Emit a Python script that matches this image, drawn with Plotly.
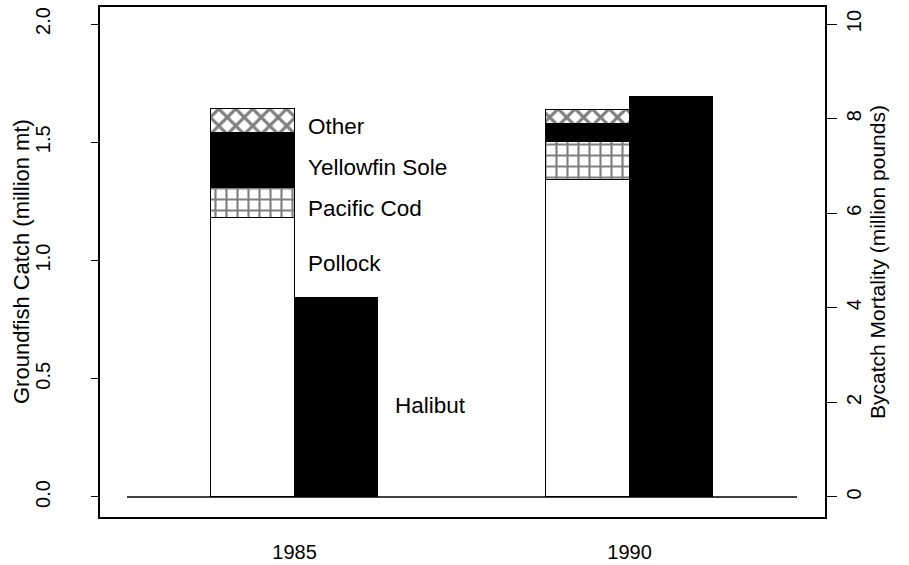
import plotly.graph_objects as go

years = ["1985", "1990"]
pollock = [1.18, 1.34]
pacific_cod = [0.125, 0.162]
yellowfin_sole = [0.235, 0.075]
other = [0.10, 0.059]
halibut = [4.2, 8.45]  # million pounds

FONT = "Liberation Sans, Arial, Helvetica, sans-serif"

# slot layout: each year uses a group of 4 slots: [empty, groundfish, halibut, empty]
gf_x = [1.5 + 4 * i for i in range(len(years))]
hal_x = [2.5 + 4 * i for i in range(len(years))]
tick_x = [2 + 4 * i for i in range(len(years))]

L, R, T, B = 100, 84, 7, 48
W, H = 909, 565
PW = W - L - R

fig = go.Figure()

fig.add_trace(go.Scatter(x=[0, 4 * len(years)], y=[0, 0], mode="lines",
                         line=dict(color="black", width=1.5), showlegend=False,
                         hoverinfo="skip"))

line = dict(color="black", width=1)
fig.add_trace(go.Bar(x=gf_x, y=pollock, width=1, name="Pollock",
                     marker=dict(color="white", line=line)))
fig.add_trace(go.Bar(x=gf_x, y=pacific_cod, width=1, name="Pacific Cod",
                     marker=dict(color="white", line=line,
                                 pattern=dict(shape="+", fgcolor="black", bgcolor="white",
                                              size=11, solidity=0.35))))
fig.add_trace(go.Bar(x=gf_x, y=yellowfin_sole, width=1, name="Yellowfin Sole",
                     marker=dict(color="black", line=line)))
fig.add_trace(go.Bar(x=gf_x, y=other, width=1, name="Other",
                     marker=dict(color="white", line=line,
                                 pattern=dict(shape="x", fgcolor="black", bgcolor="white",
                                              size=12, solidity=0.45))))
fig.add_trace(go.Bar(x=hal_x, y=halibut, width=1, name="Halibut", yaxis="y2",
                     marker=dict(color="black", line=line)))

labels = [("Other", 2.14, 1.565), ("Yellowfin Sole", 2.14, 1.395),
          ("Pacific Cod", 2.14, 1.218), ("Pollock", 2.14, 0.989),
          ("Halibut", 3.18, 0.389)]
annotations = []
for txt, lx, ly in labels:
    annotations.append(dict(x=lx, y=ly, xref="x", yref="y", text=txt, showarrow=False,
                            xanchor="left", yanchor="middle",
                            font=dict(family=FONT, size=22.5, color="black")))

annotations.append(dict(x=(21 - L) / PW, y=0.5, xref="paper", yref="paper",
                        text="Groundfish Catch (million mt)", showarrow=False,
                        textangle=-90, xanchor="center", yanchor="middle",
                        font=dict(family=FONT, size=22, color="black")))
annotations.append(dict(x=(877 - L) / PW, y=0.5, xref="paper", yref="paper",
                        text="Bycatch Mortality (million pounds)", showarrow=False,
                        textangle=-90, xanchor="center", yanchor="middle",
                        font=dict(family=FONT, size=21, color="black")))

fig.update_layout(
    width=W, height=H,
    margin=dict(l=L, r=R, t=T, b=B),
    paper_bgcolor="white", plot_bgcolor="white",
    barmode="stack", bargap=0, showlegend=False,
    font=dict(family=FONT, color="black", size=20),
    annotations=annotations,
    xaxis=dict(range=[-0.3224, 8.334], tickmode="array", tickvals=tick_x, ticktext=years,
               ticks="", showgrid=False, zeroline=False, showline=True,
               linecolor="black", linewidth=1.5, mirror=True, automargin=False,
               ticklabelstandoff=16, tickfont=dict(size=20)),
    yaxis=dict(range=[-0.0846, 2.0719], tickvals=[0, 0.5, 1.0, 1.5, 2.0],
               ticktext=["0.0", "0.5", "1.0", "1.5", "2.0"], tickangle=-90,
               ticks="outside", ticklen=7, tickcolor="black", tickwidth=1,
               showgrid=False, zeroline=False, showline=True, linecolor="black",
               linewidth=1.5, mirror=True, automargin=False,
               ticklabelstandoff=33, tickfont=dict(size=20)),
    yaxis2=dict(range=[-0.423, 10.3595], overlaying="y", side="right",
                tickvals=[0, 2, 4, 6, 8, 10], tickangle=-90,
                ticks="outside", ticklen=10, tickcolor="black", tickwidth=1,
                showgrid=False, zeroline=False, showline=True, linecolor="black",
                linewidth=1.5, automargin=False, ticklabelstandoff=0,
                tickfont=dict(size=20)),
)

fig.write_html("out.html", config={"displayModeBar": False},
               post_script="document.body.style.margin='0';document.body.style.padding='0';")
